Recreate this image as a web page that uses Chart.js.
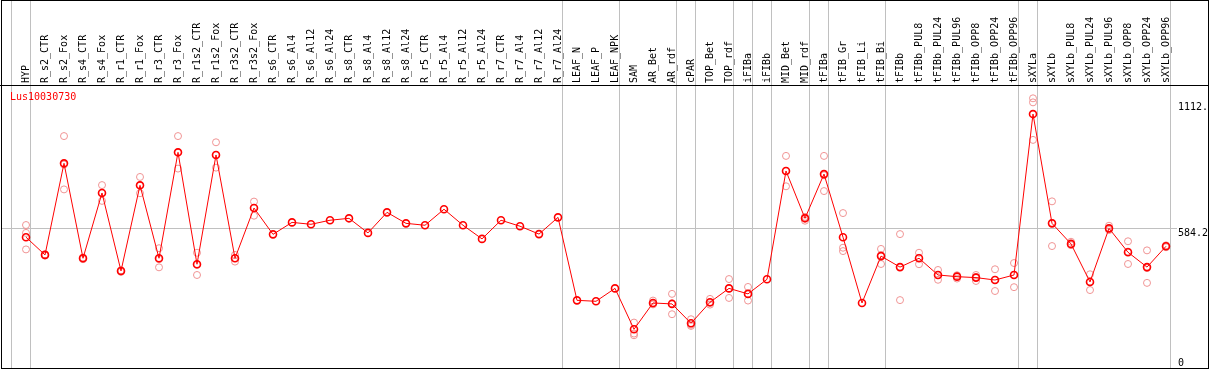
<!DOCTYPE html>
<html><head><meta charset="utf-8">
<script src="https://cdn.jsdelivr.net/npm/chart.js@4.4.1/dist/chart.umd.min.js"></script>
<style>html,body{margin:0;padding:0;background:#fff;}canvas{display:block;}</style>
</head><body>
<canvas id="c" width="1209" height="370"></canvas>
<script>
const geneName = 'Lus10030730';
const categories = ['HYP','R_s2_CTR','R_s2_Fox','R_s4_CTR','R_s4_Fox','R_r1_CTR','R_r1_Fox','R_r3_CTR','R_r3_Fox','R_r1s2_CTR','R_r1s2_Fox','R_r3s2_CTR','R_r3s2_Fox','R_s6_CTR','R_s6_Al4','R_s6_Al12','R_s6_Al24','R_s8_CTR','R_s8_Al4','R_s8_Al12','R_s8_Al24','R_r5_CTR','R_r5_Al4','R_r5_Al12','R_r5_Al24','R_r7_CTR','R_r7_Al4','R_r7_Al12','R_r7_Al24','LEAF_N','LEAF_P','LEAF_NPK','SAM','AR_Bet','AR_rdf','cPAR','TOP_Bet','TOP_rdf','iFIBa','iFIBb','MID_Bet','MID_rdf','tFIBa','tFIB_Gr','tFIB_Li','tFIB_Bi','tFIBb','tFIBb_PUL8','tFIBb_PUL24','tFIBb_PUL96','tFIBb_OPP8','tFIBb_OPP24','tFIBb_OPP96','sXYLa','sXYLb','sXYLb_PUL8','sXYLb_PUL24','sXYLb_PUL96','sXYLb_OPP8','sXYLb_OPP24','sXYLb_OPP96'];
const meanValues = [547,473,856,459,732,406,764,459,902,434,891,459,669,559,609,601,618,626,565,651,605,597,664,597,540,618,593,560,630,283,279,333,162,272,268,187,275,333,310,371,824,626,811,547,272,468,422,459,389,382,378,368,389,1062,605,519,360,584,484,422,509];
const rep1 = [598,475,970,462,765,408,799,501,970,482,944,473,696,null,null,null,null,null,null,null,null,null,null,null,null,null,null,null,null,null,null,null,190,282,310,204,289,372,339,null,887,632,887,648,null,498,560,482,410,388,389,413,439,1128,697,528,392,595,530,492,513];
const rep2 = [496,470,747,455,699,402,731,421,834,389,838,445,637,null,null,null,null,null,null,null,null,null,null,null,null,null,null,null,null,null,null,null,137,266,225,176,265,293,282,null,760,616,740,489,null,435,284,434,369,374,364,322,338,954,510,514,326,577,435,356,505];
const rep3 = [565,474,851,460,732,408,764,455,902,431,891,459,670,null,null,null,null,null,null,null,null,null,null,null,null,null,null,null,null,null,null,null,144,268,270,181,272,333,310,null,824,630,806,503,null,472,422,461,389,385,381,369,390,1111,607,515,361,581,487,418,509];
const groupEnds = [-1,0,28,31,34,35,37,38,39,41,42,45,52,53,60];
const refLineValue = 584.2;
const yTickValues = [0, 584.2, 1112];
const yTickLabels = ['0', '584.2', '1112.'];

const FONT = '10px "DejaVu Sans Mono", monospace';
const toPts = arr => arr.map((v, i) => ({x: i, y: v}));

const framePlugin = {
  id: 'frame',
  beforeDatasetsDraw(chart) {
    const {ctx, chartArea: a, scales: {x, y}} = chart;
    ctx.save();
    ctx.strokeStyle = '#c0c0c0';
    ctx.lineWidth = 1;
    groupEnds.forEach(k => {
      const px = Math.floor(x.getPixelForValue(k + 0.23)) + 0.5;
      ctx.beginPath(); ctx.moveTo(px, 0); ctx.lineTo(px, a.bottom); ctx.stroke();
    });
    const py = Math.floor(y.getPixelForValue(refLineValue)) + 0.5;
    ctx.beginPath(); ctx.moveTo(a.left, py); ctx.lineTo(1177, py); ctx.stroke();
    ctx.restore();
  },
  afterDraw(chart) {
    const {ctx, chartArea: a, scales: {x, y}} = chart;
    ctx.save();
    ctx.strokeStyle = '#000';
    ctx.lineWidth = 1;
    ctx.strokeRect(1.5, 0.5, 1207, a.bottom);
    ctx.beginPath(); ctx.moveTo(0, a.top + 0.5); ctx.lineTo(1208, a.top + 0.5); ctx.stroke();
    ctx.font = FONT;
    ctx.fillStyle = '#000';
    categories.forEach((c, i) => {
      const px = x.getPixelForValue(i);
      ctx.save();
      ctx.translate(px, a.top - 2);
      ctx.rotate(-Math.PI / 2);
      ctx.textAlign = 'left';
      ctx.textBaseline = 'middle';
      ctx.fillText(c, 0, 0);
      ctx.restore();
    });
    ctx.textBaseline = 'alphabetic';
    ctx.textAlign = 'left';
    yTickValues.forEach((v, i) => {
      const py = Math.min(y.getPixelForValue(v) + 8, a.bottom - 2.5);
      ctx.fillText(yTickLabels[i], 1178, py);
    });
    ctx.fillStyle = '#ff0000';
    ctx.fillText(geneName, 10, a.top + 15);
    ctx.restore();
  }
};

new Chart(document.getElementById('c'), {
  type: 'line',
  data: {
    datasets: [
      {data: toPts(meanValues), borderColor: '#ff0000', borderWidth: 1, pointRadius: 3.5, pointBorderWidth: 1.6, pointBorderColor: '#ff0000', pointBackgroundColor: 'rgba(0,0,0,0)', tension: 0},
      {data: toPts(rep1), showLine: false, pointRadius: 3.5, pointBorderWidth: 1, pointBorderColor: '#f09494', pointBackgroundColor: 'rgba(0,0,0,0)'},
      {data: toPts(rep2), showLine: false, pointRadius: 3.5, pointBorderWidth: 1, pointBorderColor: '#f09494', pointBackgroundColor: 'rgba(0,0,0,0)'},
      {data: toPts(rep3), showLine: false, pointRadius: 3.5, pointBorderWidth: 1, pointBorderColor: '#f09494', pointBackgroundColor: 'rgba(0,0,0,0)'}
    ]
  },
  options: {
    responsive: false, animation: false, devicePixelRatio: 1, events: [],
    layout: {autoPadding: false, padding: {left: 1, right: 1, top: 85, bottom: 2}},
    plugins: {legend: {display: false}, tooltip: {enabled: false}},
    scales: {
      x: {type: 'linear', display: false, min: -25/19, max: 1182/19},
      y: {type: 'linear', display: false, min: 0, max: 283 * 4.1824}
    }
  },
  plugins: [framePlugin]
});
</script>
</body></html>
